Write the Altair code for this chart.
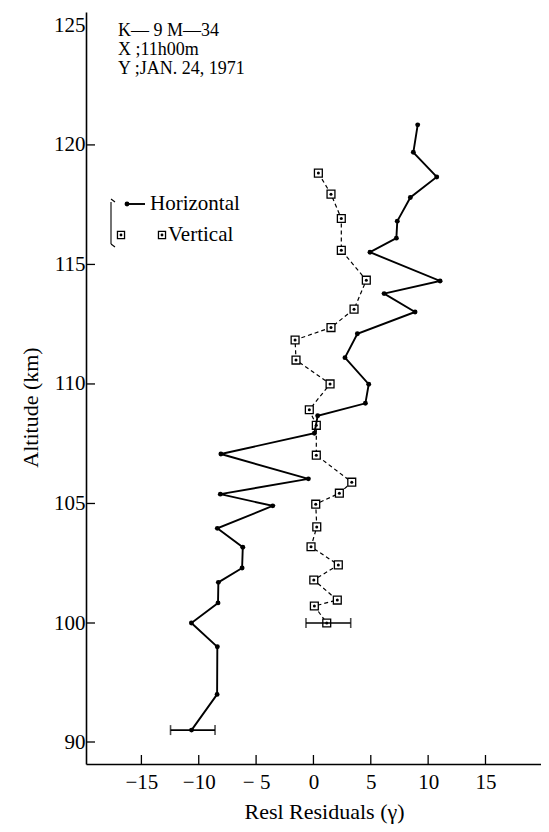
import altair as alt
import pandas as pd

# ---- data ----
h_alt = [120.84, 119.69, 118.66, 117.80, 116.81, 116.10, 115.51, 114.31, 113.78, 113.01,
         112.10, 111.10, 109.99, 109.19, 108.67, 107.94, 107.07, 106.03, 105.39, 104.90,
         103.96, 103.17, 102.30, 101.70, 100.84, 100.00, 98.0, 94.0, 91.0]
h_val = [9.09, 8.71, 10.75, 8.45, 7.31, 7.23, 4.93, 11.04, 6.16, 8.86,
         3.83, 2.75, 4.82, 4.53, 0.37, 0.08, -8.07, -0.44, -8.12, -3.55,
         -8.38, -6.16, -6.22, -8.29, -8.32, -10.64, -8.38, -8.40, -10.63]

v_alt = [118.82, 117.94, 116.92, 115.59, 114.34, 113.13, 112.36, 111.84, 111.00, 110.00,
         108.92, 108.27, 107.02, 105.89, 105.43, 104.97, 104.02, 103.19, 102.43, 101.80,
         100.96, 100.71, 100.00]
v_val = [0.43, 1.53, 2.43, 2.43, 4.61, 3.54, 1.53, -1.60, -1.52, 1.45,
         -0.36, 0.25, 0.25, 3.34, 2.26, 0.20, 0.29, -0.21, 2.17, 0.03,
         2.08, 0.08, 1.16]

err_alt = [91.0, 100.0]
err_lo = [-12.46, -0.65]
err_hi = [-8.58, 3.25]

x_ticks = [-15, -10, -5, 0, 5, 10, 15]
y_labels = [90, 100, 105, 110, 115, 120, 125]
y_tickmarks = [90, 100, 105, 110, 115, 120]

note_lines = ["K— 9 M—34", "X ;11h00m", "Y ;JAN. 24,  1971"]
legend_names = ["Horizontal", "Vertical"]

FONT = "Liberation Serif"
W, H = 455, 752

xscale = alt.Scale(domain=[-19.83, 19.84], nice=False, zero=False)
yscale = alt.Scale(domain=[88.16, 90, 100, 125.56], range=[H, 730, 611, 0], nice=False, zero=False)

hdf = pd.DataFrame({"alt": h_alt, "val": h_val, "i": range(len(h_alt))})
vdf = pd.DataFrame({"alt": v_alt, "val": v_val, "i": range(len(v_alt))})
edf = pd.DataFrame({"alt": err_alt, "lo": err_lo, "hi": err_hi})

xaxis = alt.Axis(values=x_ticks, ticks=False, grid=False, domainColor="black", domainWidth=1.6,
                 labelFont=FONT, labelFontSize=21, labelColor="black", labelPadding=7,
                 labelExpr="datum.value < 0 ? '−' + (datum.value > -10 ? ' ' : '') + abs(datum.value) : '' + datum.value",
                 title="Resl Residuals (γ)", titleFont=FONT, titleFontSize=22, titleFontWeight="normal",
                 titleColor="black", titleX=238, titleY=47, titleAlign="center", titleBaseline="middle")
yaxis = alt.Axis(values=y_labels, ticks=False, grid=False, domainColor="black", domainWidth=1.6,
                 labelFont=FONT, labelFontSize=21, labelColor="black", labelPadding=1,
                 title="Altitude (km)", titleFont=FONT, titleFontSize=22, titleFontWeight="normal",
                 titleColor="black", titleX=-56, titleY=395, titleAngle=270,
                 titleAlign="center", titleBaseline="middle")

X = lambda f: alt.X(f, type="quantitative", scale=xscale, axis=xaxis)
Y = lambda f: alt.Y(f, type="quantitative", scale=yscale, axis=yaxis)

h_line = alt.Chart(hdf).mark_line(color="black", strokeWidth=1.9).encode(x=X("val"), y=Y("alt"), order="i:Q")
h_pts = alt.Chart(hdf).mark_circle(color="black", size=24, opacity=1).encode(x=X("val"), y=Y("alt"))

v_line = alt.Chart(vdf).mark_line(color="black", strokeWidth=1.2, strokeDash=[4, 3]).encode(
    x=X("val"), y=Y("alt"), order="i:Q")
v_sq = alt.Chart(vdf).mark_square(fill="white", stroke="black", strokeWidth=1.3, size=62, opacity=1).encode(
    x=X("val"), y=Y("alt"))
v_dot = alt.Chart(vdf).mark_circle(color="black", size=9, opacity=1).encode(x=X("val"), y=Y("alt"))

e_rule = alt.Chart(edf).mark_rule(color="black", strokeWidth=1.6).encode(x=X("lo"), x2="hi", y=Y("alt"))
e_cap1 = alt.Chart(edf).mark_tick(color="black", orient="vertical", size=10, thickness=1.6).encode(
    x=X("lo"), y=Y("alt"))
e_cap2 = alt.Chart(edf).mark_tick(color="black", orient="vertical", size=10, thickness=1.6).encode(
    x=X("hi"), y=Y("alt"))

# inward axis ticks
ytk = alt.Chart(pd.DataFrame({"v": y_tickmarks})).mark_rule(color="black", strokeWidth=1.3).encode(
    y=Y("v"), x=alt.value(0), x2=alt.value(9))
xtk = alt.Chart(pd.DataFrame({"v": x_ticks})).mark_rule(color="black", strokeWidth=1.3).encode(
    x=X("v"), y=alt.value(H), y2=alt.value(H - 9))

one = pd.DataFrame({"a": [0]})
notes = [
    alt.Chart(one).mark_text(align="left", baseline="middle", font=FONT, fontSize=18, color="black").encode(
        x=alt.value(32), y=alt.value(19 + 19 * k), text=alt.value(t))
    for k, t in enumerate(note_lines)
]

# legend
leg = []
bk = dict(color="black", strokeWidth=1.1)
leg.append(alt.Chart(one).mark_rule(**bk).encode(x=alt.value(25), y=alt.value(190), y2=alt.value(232)))
leg.append(alt.Chart(one).mark_rule(**bk).encode(x=alt.value(25), x2=alt.value(29), y=alt.value(187), y2=alt.value(190)))
leg.append(alt.Chart(one).mark_rule(**bk).encode(x=alt.value(25), x2=alt.value(29), y=alt.value(232), y2=alt.value(235)))
leg.append(alt.Chart(one).mark_rule(color="black", strokeWidth=1.9).encode(
    x=alt.value(41), x2=alt.value(59), y=alt.value(192)))
leg.append(alt.Chart(one).mark_circle(color="black", size=24, opacity=1).encode(
    x=alt.value(41), y=alt.value(192)))
for xx in [35, 76]:
    leg.append(alt.Chart(one).mark_square(fill="white", stroke="black", strokeWidth=1.3, size=50, opacity=1).encode(
        x=alt.value(xx), y=alt.value(223)))
    leg.append(alt.Chart(one).mark_circle(color="black", size=8, opacity=1).encode(
        x=alt.value(xx), y=alt.value(223)))
leg.append(alt.Chart(one).mark_text(align="left", baseline="middle", font=FONT, fontSize=21, color="black").encode(
    x=alt.value(64), y=alt.value(192), text=alt.value(legend_names[0])))
leg.append(alt.Chart(one).mark_text(align="left", baseline="middle", font=FONT, fontSize=21, color="black").encode(
    x=alt.value(82), y=alt.value(223), text=alt.value(legend_names[1])))

chart = alt.layer(
    v_line, v_sq, v_dot, h_line, h_pts, e_rule, e_cap1, e_cap2, ytk, xtk, *notes, *leg
).properties(
    width=W, height=H,
    autosize=alt.AutoSizeParams(type="none"),
    padding={"left": 78, "top": 4, "right": 0, "bottom": 60},
    background="white",
).configure_view(stroke=None)

chart.save("out.html", embed_options={"renderer": "svg", "actions": False})
